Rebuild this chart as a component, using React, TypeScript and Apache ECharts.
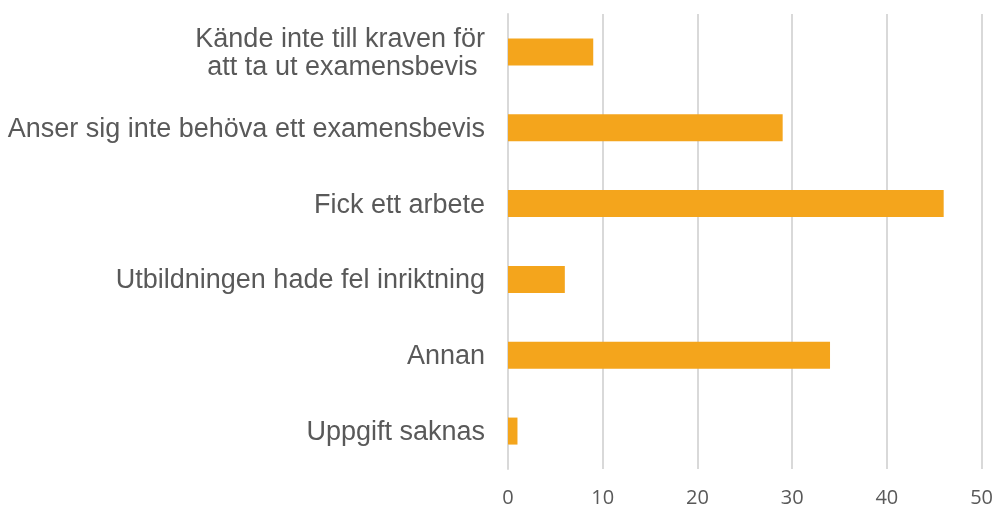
import React, { useEffect, useRef } from "react";
import * as echarts from "echarts";

const categories = [
  "Kände inte till kraven för\natt ta ut examensbevis\u00a0",
  "Anser sig inte behöva ett examensbevis",
  "Fick ett arbete",
  "Utbildningen hade fel inriktning",
  "Annan",
  "Uppgift saknas",
];
const values = [9, 29, 46, 6, 34, 1];
const xTicks = { min: 0, max: 50, interval: 10 };

export default function App() {
  const ref = useRef<HTMLDivElement>(null);
  useEffect(() => {
    const chart = echarts.init(ref.current!, null, { renderer: "svg" });
    chart.setOption({
      animation: false,
      grid: { left: 508, right: 13, top: 14, bottom: 39, containLabel: false },
      xAxis: {
        type: "value",
        min: xTicks.min,
        max: xTicks.max,
        interval: xTicks.interval,
        axisLine: { show: false },
        axisTick: { show: false },
        splitLine: { show: true, lineStyle: { color: "#d9d9d9", width: 2 } },
        axisLabel: {
          color: "#595959",
          fontSize: 20,
          fontFamily: "Open Sans, Liberation Sans, sans-serif",
          margin: 17,
        },
      },
      yAxis: {
        type: "category",
        data: categories,
        inverse: true,
        axisLine: { show: true, lineStyle: { color: "#d9d9d9", width: 2 } },
        axisTick: { show: false },
        axisLabel: {
          color: "#595959",
          fontSize: 27,
          lineHeight: 28,
          fontFamily: "'Liberation Sans', Arial, sans-serif",
          margin: 23,
          align: "right",
        },
      },
      series: [
        {
          type: "bar",
          data: values,
          barWidth: 27,
          itemStyle: { color: "#F4A51C" },
        },
      ],
    });
    return () => chart.dispose();
  }, []);
  return (
    <div
      ref={ref}
      style={{ position: "fixed", left: 0, top: 0, width: 996, height: 508 }}
    />
  );
}
